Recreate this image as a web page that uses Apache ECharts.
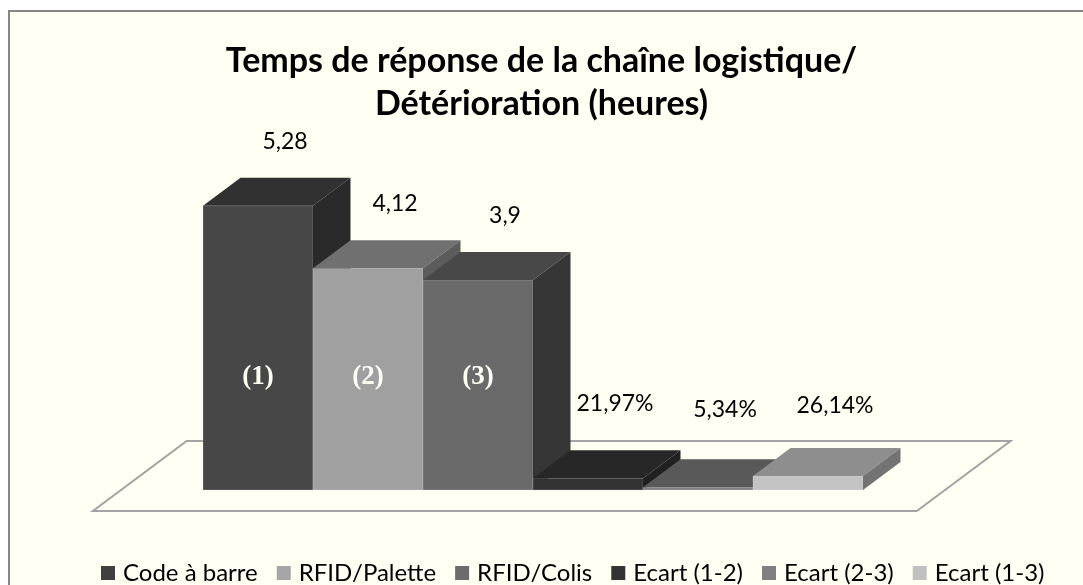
<!DOCTYPE html>
<html>
<head>
<meta charset="utf-8">
<script src="https://cdn.jsdelivr.net/npm/echarts@6/dist/echarts.min.js"></script>
<style>
  html, body { margin: 0; padding: 0; background: #ffffff; }
  #chart { width: 1083px; height: 585px; }
</style>
</head>
<body>
<div id="chart"></div>
<script>
// Response time of the supply chain / deterioration (hours), with the gaps between methods
const categories = ['Code à barre', 'RFID/Palette', 'RFID/Colis', 'Ecart (1-2)', 'Ecart (2-3)', 'Ecart (1-3)'];
const values = [5.28, 4.12, 3.9, 0.2197, 0.0534, 0.2614];
const valueKinds = ['heures', 'heures', 'heures', 'pourcent', 'pourcent', 'pourcent'];
const barTags = ['(1)', '(2)', '(3)', '', '', ''];
const tagLevel = 2.1;

// Shading of each pseudo-3D column: legend swatch, front, top and side faces
const palette = [
  { legend: '#404040', front: '#474747', top: '#313131', side: '#2a2a2a' },
  { legend: '#a6a6a6', front: '#a0a0a0', top: '#707070', side: '#5c5c5c' },
  { legend: '#6c6c6c', front: '#6a6a6a', top: '#484848', side: '#363636' },
  { legend: '#333333', front: '#323232', top: '#272727', side: '#202020' },
  { legend: '#808080', front: '#7f7f7f', top: '#595959', side: '#474747' },
  { legend: '#c0c0c0', front: '#c3c3c3', top: '#8e8e8e', side: '#737373' }
];
// Vertical distance (px) from the front top edge to the centre of each value label
const labelLift = [64, 65, 64, 75, 78, 70];

const DEPTH_X = 37.5, DEPTH_Y = -28;
const CREAM = '#fffff3';
const TEXT_FONT = 'Lato, "Open Sans", sans-serif';

function formatValue(v, kind) {
  if (kind === 'pourcent') return (v * 100).toFixed(2).replace('.', ',') + '%';
  return String(v).replace('.', ',');
}

const chart = echarts.init(document.getElementById('chart'), null, { renderer: 'canvas' });

const floorSeries = {
  type: 'custom',
  name: '__floor',
  silent: true,
  clip: false,
  data: [[0, 0]],
  renderItem: function (params, api) {
    const w = api.size([1, 0])[0];
    const first = api.coord([0, 0]);
    const last = api.coord([categories.length - 1, 0]);
    const m = 0.745 * w;
    const l = first[0] - w / 2 - m, r = last[0] + w / 2 + m, y = first[1];
    const fx = -0.75 * DEPTH_X, fy = -0.75 * DEPTH_Y;
    const bx = 1.75 * DEPTH_X, by = 1.75 * DEPTH_Y;
    return {
      type: 'polygon',
      shape: { points: [[l + fx, y + fy], [r + fx, y + fy], [r + bx, y + by], [l + bx, y + by]] },
      style: { fill: CREAM, stroke: '#a3a3a3', lineWidth: 2 }
    };
  }
};

const barSeries = categories.map(function (name, i) {
  const c = palette[i];
  return {
    type: 'custom',
    name: name,
    clip: false,
    itemStyle: { color: c.legend },
    data: [[i, values[i]]],
    renderItem: function (params, api) {
      const x = api.value(0), v = api.value(1);
      const base = api.coord([x, 0]);
      const top = api.coord([x, v]);
      const w = api.size([1, 0])[0];
      const x0 = base[0] - w / 2, x1 = base[0] + w / 2;
      const y0 = base[1], y1 = top[1];
      const dx = DEPTH_X, dy = DEPTH_Y;
      const children = [
        {
          type: 'polygon',
          shape: { points: [[x0, y1], [x1, y1], [x1, y0], [x0, y0]] },
          style: { fill: c.front, stroke: 'rgba(255,255,255,0.18)', lineWidth: 1 }
        },
        {
          type: 'polygon',
          shape: { points: [[x0, y1], [x1, y1], [x1 + dx, y1 + dy], [x0 + dx, y1 + dy]] },
          style: { fill: c.top }
        },
        {
          type: 'polygon',
          shape: { points: [[x1, y1], [x1 + dx, y1 + dy], [x1 + dx, y0 + dy], [x1, y0]] },
          style: { fill: c.side }
        },
        {
          type: 'text',
          style: {
            text: formatValue(v, valueKinds[i]),
            x: base[0] + 27, y: y1 - labelLift[i],
            align: 'center', verticalAlign: 'middle',
            fill: '#000000', font: '23px ' + TEXT_FONT
          }
        }
      ];
      if (barTags[i]) {
        const tagPos = api.coord([x, tagLevel]);
        children.push({
          type: 'text',
          style: {
            text: barTags[i],
            x: base[0], y: tagPos[1],
            align: 'center', verticalAlign: 'middle',
            fill: '#fffff6', font: 'bold 27px "Liberation Serif", "Times New Roman", serif'
          }
        });
      }
      return { type: 'group', children: children };
    }
  };
});

chart.setOption({
  backgroundColor: 'transparent',
  animation: false,
  graphic: [{
    type: 'rect',
    z: -10,
    silent: true,
    shape: { x: 9, y: 11, width: 1200, height: 700 },
    style: { fill: CREAM, stroke: '#868686', lineWidth: 2 }
  }],
  title: {
    text: 'Temps de réponse de la chaîne logistique/\nDétérioration (heures)',
    left: 'center',
    top: 35,
    textStyle: { fontFamily: TEXT_FONT, fontWeight: 'bold', fontSize: 34, lineHeight: 43, color: '#000000' }
  },
  legend: {
    data: categories,
    left: 96,
    top: 556,
    icon: 'rect',
    itemWidth: 14,
    itemHeight: 14,
    itemGap: 19,
    textStyle: { fontFamily: TEXT_FONT, fontSize: 24, lineHeight: 24, color: '#000000', padding: [0, 0, 0, 3] },
    selectedMode: false
  },
  grid: { left: 203, right: 220, top: 167, bottom: 95 },
  xAxis: { type: 'category', data: categories, show: false, boundaryGap: true },
  yAxis: { type: 'value', min: 0, max: 6, show: false },
  series: [floorSeries].concat(barSeries)
});
</script>
</body>
</html>
